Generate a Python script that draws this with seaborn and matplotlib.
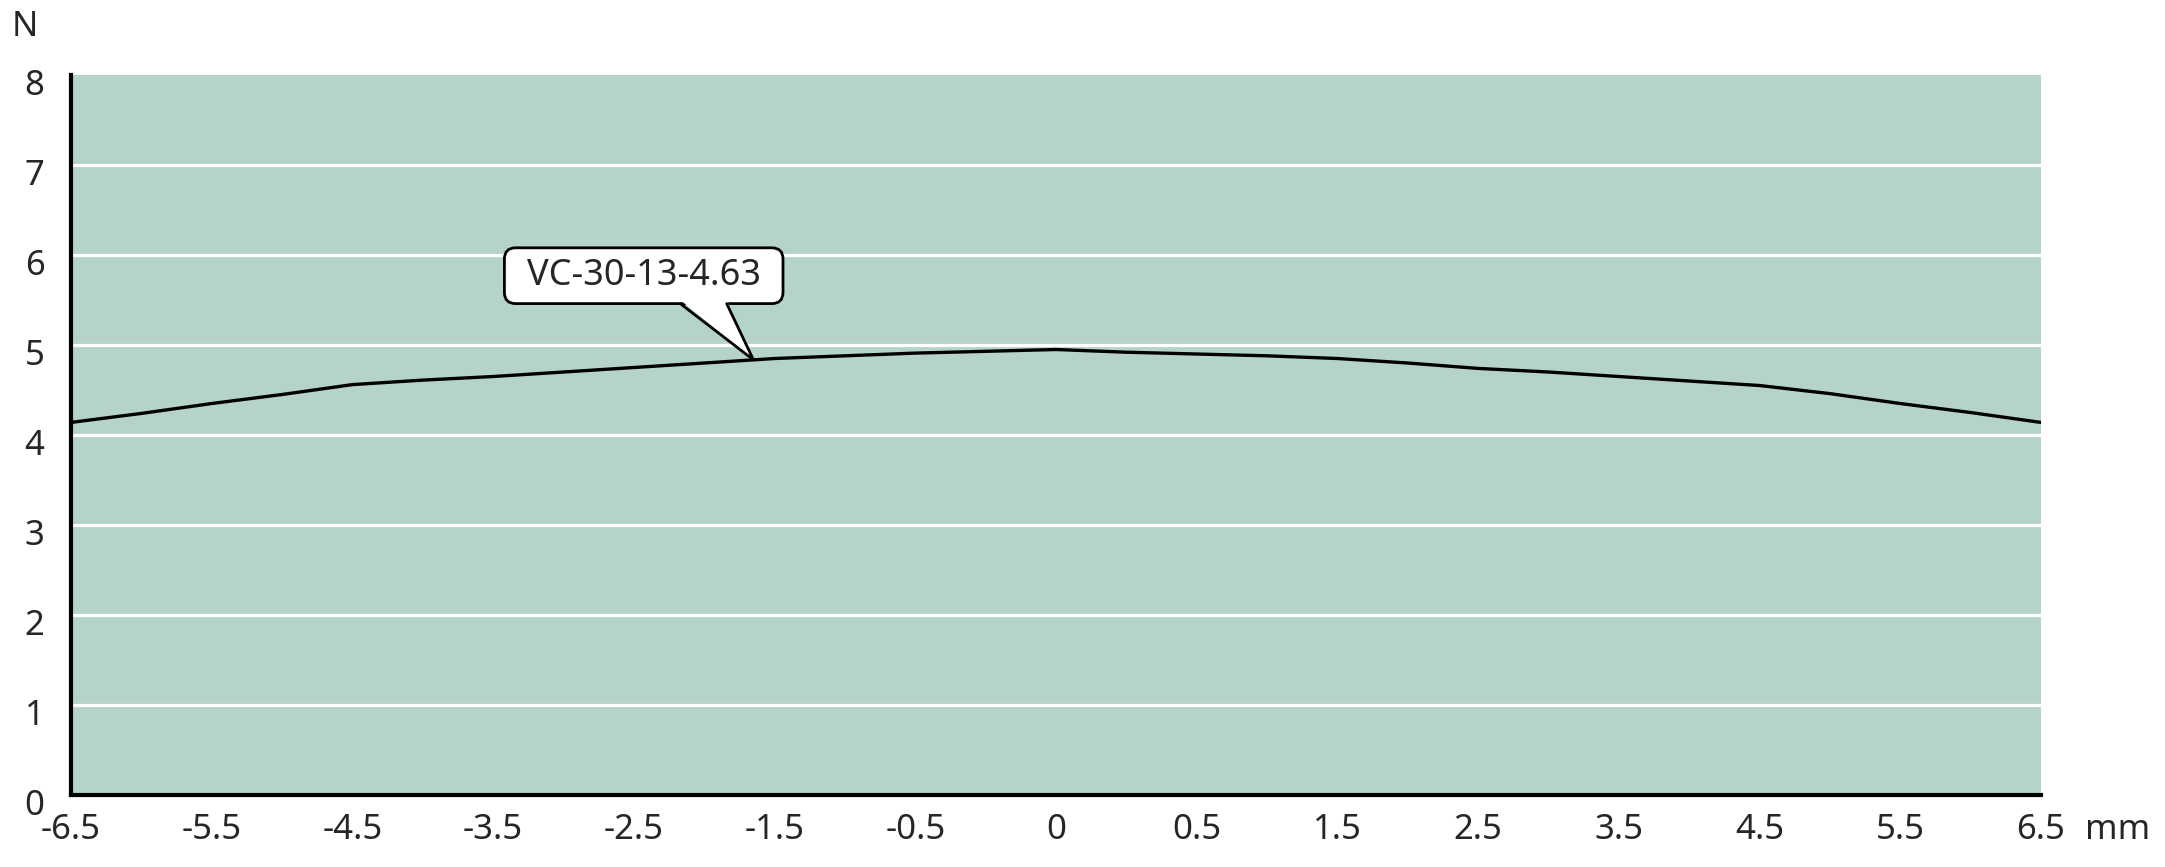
import numpy as np
import pandas as pd
import matplotlib
matplotlib.use("Agg")
import matplotlib.pyplot as plt
import matplotlib.transforms as mtrans
from matplotlib.patches import FancyBboxPatch, Polygon
import seaborn as sns

# tick labels along the stroke axis (equally spaced categories)
x_labels = ["-6.5", "-5.5", "-4.5", "-3.5", "-2.5", "-1.5", "-0.5", "0",
            "0.5", "1.5", "2.5", "3.5", "4.5", "5.5", "6.5"]
y_ticks = [0, 1, 2, 3, 4, 5, 6, 7, 8]

# curve position in tick units (0 = -6.5 ... 14 = 6.5) and force in N
position = [0, 0.5, 1, 1.5, 2, 2.5, 3, 3.5, 4, 4.5, 5, 5.5, 6, 6.5, 7,
            7.5, 8, 8.5, 9, 9.5, 10, 10.5, 11, 11.5, 12, 12.5, 13, 13.5, 14]
force = [4.14, 4.24, 4.35, 4.45, 4.56, 4.61, 4.65, 4.70, 4.75, 4.80, 4.85,
         4.88, 4.91, 4.93, 4.95, 4.92, 4.90, 4.88, 4.85, 4.80, 4.74, 4.70,
         4.65, 4.60, 4.55, 4.46, 4.35, 4.25, 4.14]
label = "VC-30-13-4.63"
label_at = 4.85  # where the callout points, in tick units

bg = "#b6d3c7"
sns.set_style("white", {"axes.facecolor": bg})
plt.rcParams["font.family"] = ["Noto Sans", "DejaVu Sans"]

df = pd.DataFrame({"pos": position, "N": force})

fig = plt.figure(figsize=(21.65, 8.67), dpi=100)
ax = fig.add_axes([0.0328, 0.083, 0.9099, 0.8305])

sns.lineplot(data=df, x="pos", y="N", color="black", linewidth=2.4, ax=ax, zorder=3)

ax.set_xlim(0, 14)
ax.set_ylim(0, 8)
ax.set_xticks(range(len(x_labels)))
ax.set_xticklabels(x_labels)
ax.set_yticks(y_ticks)
ax.set_yticklabels([str(v) for v in y_ticks])
for v in y_ticks[1:-1]:
    ax.axhline(v, color="white", linewidth=2.3, zorder=1)

ax.set_xlabel("")
ax.set_ylabel("")
for s in ["top", "right"]:
    ax.spines[s].set_visible(False)
for s in ["left", "bottom"]:
    ax.spines[s].set_color("black")
    ax.spines[s].set_linewidth(3)
ax.tick_params(axis="x", direction="in", length=12, width=2.3, color="black",
               labelsize=25, pad=13)
ax.tick_params(axis="y", length=0, labelsize=25, pad=19)
for t in ax.get_xticklines():
    t.set_clip_on(False)
off = mtrans.ScaledTranslation(0, -0.07, fig.dpi_scale_trans)
for t in ax.get_yticklabels():
    t.set_transform(t.get_transform() + off)

fig.text(25 / 2165, 1 - 27 / 867, "N", fontsize=25, ha="center", va="center")
fig.text(2085 / 2165, 1 - 830 / 867, "mm", fontsize=25, ha="left", va="center")

# callout box
tip_y = np.interp(label_at, position, force)
box = FancyBboxPatch((3.08, 5.46), 1.98, 0.62,
                     boxstyle="round,pad=0,rounding_size=0.08",
                     mutation_aspect=1.56, fc="white", ec="black",
                     linewidth=2, zorder=5)
ax.add_patch(box)
tri = Polygon([(4.33, 5.50), (label_at, tip_y), (4.66, 5.50)], closed=True,
              fc="white", ec="none", zorder=6)
ax.add_patch(tri)
ax.plot([4.33, label_at, 4.66], [5.46, tip_y, 5.46], color="black",
        linewidth=2, zorder=7, solid_joinstyle="miter")
ax.text(4.07, 5.77, label, fontsize=26, ha="center", va="center", zorder=8)

fig.savefig("out.png", dpi=100)
